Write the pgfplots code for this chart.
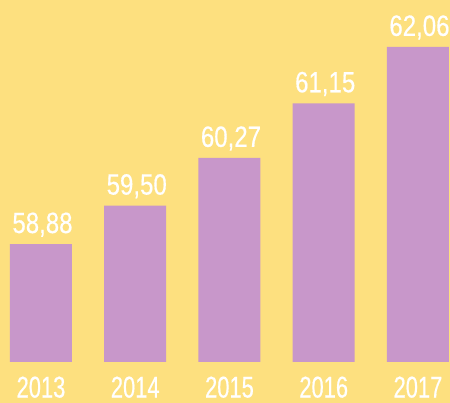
\documentclass[border=0pt]{standalone}
\usepackage{fontspec}
\setmainfont[FakeStretch=0.82, FakeBold=0.5]{Liberation Sans}
\newfontfamily\yearfont[FakeStretch=0.73, FakeBold=0.5]{Liberation Sans}
\usepackage{pgfplots}
\pgfplotsset{compat=1.18}
\definecolor{bg}{HTML}{FDE07F}
\definecolor{bar}{HTML}{C897CA}
\begin{document}
\begin{tikzpicture}
\fill[bg] (0,-41bp) rectangle (450bp,362bp);
\useasboundingbox (0,-41bp) rectangle (450bp,362bp);
\begin{axis}[
    at={(0,0)}, anchor=south west,
    scale only axis,
    width=450bp, height=362bp,
    xmin=-0.435, xmax=4.34,
    ymin=56.977, ymax=62.816,
    axis line style={draw=none},
    major tick length=0pt,
    ytick=\empty,
    xtick={0,1,2,3,4},
    xticklabels={2013,2014,2015,2016,2017},
    xticklabel style={anchor=base, inner sep=0pt, yshift=-35.5bp,
        text=white, font=\yearfont\fontsize{30bp}{31bp}\selectfont},
    ybar, bar width=62bp,
    nodes near coords,
    /pgf/number format/.cd, fixed, fixed zerofill, precision=2, use comma,
        assume math mode=true,
    /pgfplots/.cd,
    every node near coord/.append style={anchor=base, inner sep=0pt,
        yshift=11bp, xshift=1.5bp, text=white,
        font=\fontsize{29.3bp}{30bp}\selectfont},
]
\addplot[fill=bar, draw=none] coordinates {
    (0,58.88) (1,59.50) (2,60.27) (3,61.15) (4,62.06)
};
\end{axis}
\end{tikzpicture}
\end{document}
